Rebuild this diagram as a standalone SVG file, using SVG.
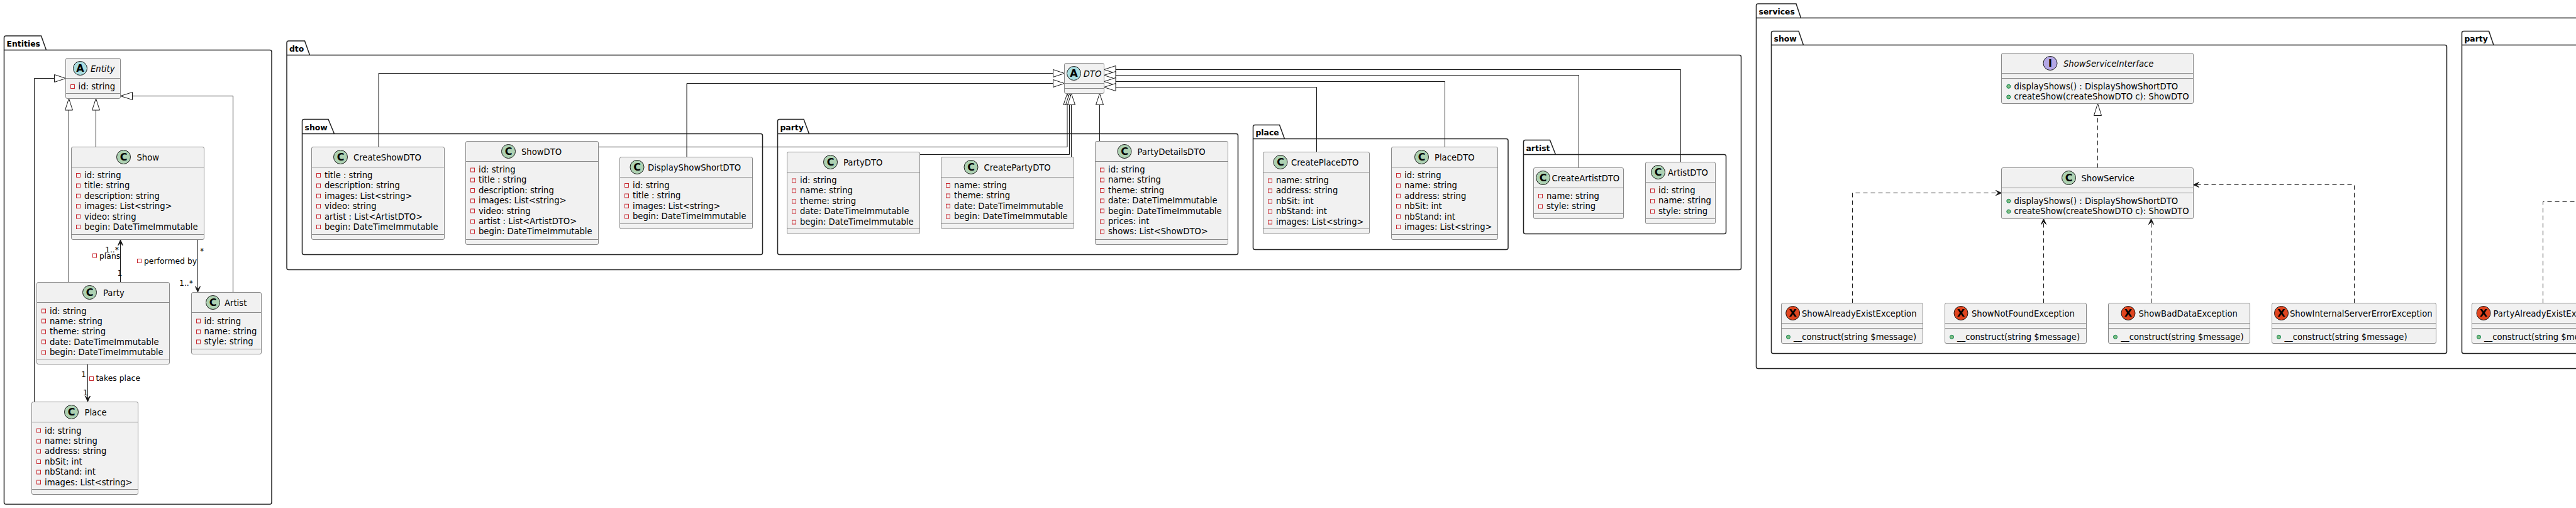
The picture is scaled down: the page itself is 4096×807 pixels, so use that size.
<svg xmlns="http://www.w3.org/2000/svg" width="4096" height="807" viewBox="0 0 4096 807">
<style>
text{font-family:"DejaVu Sans",sans-serif;font-size:13.2px;fill:#000}
.pk{fill:none;stroke:#222;stroke-width:1.5}
.pt{font-weight:bold;font-size:12.4px}
.b{fill:#f1f1f1;stroke:#8a8a8a;stroke-width:1}
.l{stroke:#8a8a8a;stroke-width:1;fill:none}
.c{stroke:#181818;stroke-width:1;fill:none}
.d{stroke:#181818;stroke-width:1;fill:none;stroke-dasharray:7 5}
.tri{stroke:#181818;stroke-width:1;fill:#fff}
.ar{fill:#181818;stroke:#181818;stroke-width:1}
.sc{fill:#add1b2;stroke:#181818}
.sa{fill:#a9dcdf;stroke:#181818}
.si{fill:#b4a7e5;stroke:#181818}
.sx{fill:#e0451f;stroke:#181818}
.g{font-weight:bold;font-size:16px;text-anchor:middle}
.it{font-style:italic}
.pr{fill:none;stroke:#c82930;stroke-width:1}
.pu{fill:#84be84;stroke:#038048;stroke-width:1}
.lb{font-size:12.4px}
</style>
<g id="packages">
<g id="pkg-entities"><path class="pk" d="M6.5 79.5V60Q6.5 57 9.5 57H65.5L73.5 79.5M6.5 79.5H429Q432 79.5 432 82.5V798Q432 801 429 801H9.5Q6.5 801 6.5 798V79.5"/><text class="pt" x="10.5" y="73.5">Entities</text></g>
<g id="pkg-dto"><path class="pk" d="M456 87.5V68Q456 65 459 65H484.5L492.5 87.5M456 87.5H2765.5Q2768.5 87.5 2768.5 90.5V425.5Q2768.5 428.5 2765.5 428.5H459Q456 428.5 456 425.5V87.5"/><text class="pt" x="460" y="81.5">dto</text></g>
<g id="pkg-dto-show"><path class="pk" d="M480.5 212.5V192.5Q480.5 189.5 483.5 189.5H522L531.5 212.5M480.5 212.5H1209.5Q1212.5 212.5 1212.5 215.5V401.5Q1212.5 404.5 1209.5 404.5H483.5Q480.5 404.5 480.5 401.5V212.5"/><text class="pt" x="484.5" y="206.5">show</text></g>
<g id="pkg-dto-party"><path class="pk" d="M1236.5 212.5V192.5Q1236.5 189.5 1239.5 189.5H1278L1286.5 212.5M1236.5 212.5H1965.5Q1968.5 212.5 1968.5 215.5V401.5Q1968.5 404.5 1965.5 404.5H1239.5Q1236.5 404.5 1236.5 401.5V212.5"/><text class="pt" x="1240.5" y="206.5">party</text></g>
<g id="pkg-dto-place"><path class="pk" d="M1992.5 220.5V201.5Q1992.5 198.5 1995.5 198.5H2034.5L2042.5 220.5M1992.5 220.5H2395Q2398 220.5 2398 223.5V393.5Q2398 396.5 2395 396.5H1995.5Q1992.5 396.5 1992.5 393.5V220.5"/><text class="pt" x="1996.5" y="214.5">place</text></g>
<g id="pkg-dto-artist"><path class="pk" d="M2422.5 245.5V225.5Q2422.5 222.5 2425.5 222.5H2464.5L2473.5 245.5M2422.5 245.5H2741.5Q2744.5 245.5 2744.5 248.5V368.5Q2744.5 371.5 2741.5 371.5H2425.5Q2422.5 371.5 2422.5 368.5V245.5"/><text class="pt" x="2426.5" y="239.5">artist</text></g>
<g id="pkg-services"><path class="pk" d="M2792.5 28.5V9Q2792.5 6 2795.5 6H2856L2863.5 28.5M2792.5 28.5H4100M2792.5 28.5V582.5Q2792.5 585.5 2795.5 585.5H4100"/><text class="pt" x="2796.5" y="22.5">services</text></g>
<g id="pkg-services-show"><path class="pk" d="M2816.5 71.5V52.5Q2816.5 49.5 2819.5 49.5H2860L2867.5 71.5M2816.5 71.5H3887.5Q3890.5 71.5 3890.5 74.5V558.5Q3890.5 561.5 3887.5 561.5H2819.5Q2816.5 561.5 2816.5 558.5V71.5"/><text class="pt" x="2820.5" y="65.5">show</text></g>
<g id="pkg-services-party"><path class="pk" d="M3914.5 71.5V52.5Q3914.5 49.5 3917.5 49.5H3957.5L3965 71.5M3914.5 71.5H4100M3914.5 71.5V558.5Q3914.5 561.5 3917.5 561.5H4100"/><text class="pt" x="3918.5" y="65.5">party</text></g>
</g>
<g id="connectors">
<path class="c" d="M54.5 638.5V124.5H86.5"/><path class="tri" d="M104.5 124.5L86.5 118.5V130.5Z"/>
<path class="c" d="M109.5 448.5V175"/><path class="tri" d="M109.5 156.5L103.5 175H115.5Z"/>
<path class="c" d="M152.5 233.5V175"/><path class="tri" d="M152.5 156.5L146.5 175H158.5Z"/>
<path class="c" d="M370.5 464.5V152.5H210.5"/><path class="tri" d="M191.5 152.5L210.5 146.5V158.5Z"/>
<path class="c" d="M191.5 448.5V385"/><path class="ar" d="M191.5 381L187.5 390L191.5 386L195.5 390Z"/>
<path class="c" d="M314.5 380.5V460"/><path class="ar" d="M314.5 464L310.5 455L314.5 459L318.5 455Z"/>
<path class="c" d="M139.5 578.5V634"/><path class="ar" d="M139.5 638L135.5 629L139.5 633L143.5 629Z"/>
<text class="lb" x="167" y="401">1..*</text>
<rect class="pr" x="147.5" y="403" width="6" height="6"/><text class="lb" x="158" y="411">plans</text>
<text class="lb" x="186.5" y="438">1</text>
<text class="lb" x="318" y="403">*</text>
<rect class="pr" x="218.5" y="411.5" width="6" height="6"/><text class="lb" x="229" y="419">performed by</text>
<text class="lb" x="285" y="454">1..*</text>
<text class="lb" x="129" y="599">1</text>
<rect class="pr" x="142.5" y="598.5" width="6" height="6"/><text class="lb" x="152.5" y="605">takes place</text>
<text class="lb" x="132" y="628">1</text>

<path class="c" d="M602 233.5V116.5H1674.5"/><path class="tri" d="M1692.5 116.5L1674.5 110.5V122.5Z"/>
<path class="c" d="M1092 249.5V132.5H1674.5"/><path class="tri" d="M1692.5 132.5L1674.5 126.5V138.5Z"/>
<path class="c" d="M951.5 233.5H1697V166.5"/><path class="tri" d="M1697 148.5L1691 166.5H1703Z"/>
<path class="c" d="M1462.5 245.5H1700.5V166.5"/><path class="tri" d="M1700.5 148.5L1694.5 166.5H1706.5Z"/>
<path class="c" d="M1703.5 249.5V166.5"/><path class="tri" d="M1703.5 148.5L1697.5 166.5H1709.5Z"/>
<path class="c" d="M1748.5 224.5V166.5"/><path class="tri" d="M1748.5 148.5L1742.5 166.5H1754.5Z"/>
<path class="c" d="M2672.5 257.5V110.5H1774"/><path class="tri" d="M1755.5 110.5L1774 104.5V116.5Z"/>
<path class="c" d="M2510.5 267V119.5H1774"/><path class="tri" d="M1755.5 119.5L1774 113.5V125.5Z"/>
<path class="c" d="M2297.5 233.5V129.5H1774"/><path class="tri" d="M1755.5 129.5L1774 123.5V135.5Z"/>
<path class="c" d="M2093.5 241.5V138.5H1774"/><path class="tri" d="M1755.5 138.5L1774 132.5V144.5Z"/>

<path class="d" d="M3335.5 266.5V183.5"/><path class="tri" d="M3335.5 164.5L3329.5 183.5H3341.5Z"/>
<path class="d" d="M2945.5 481.5V306.5H3178"/><path class="ar" d="M3182.5 306.5L3173.5 302.5L3177.5 306.5L3173.5 310.5Z"/>
<path class="d" d="M3249.5 481.5V352"/><path class="ar" d="M3249.5 347.5L3245.5 356.5L3249.5 352.5L3253.5 356.5Z"/>
<path class="d" d="M3420.5 481.5V352"/><path class="ar" d="M3420.5 347.5L3416.5 356.5L3420.5 352.5L3424.5 356.5Z"/>
<path class="d" d="M3743.5 481.5V293.5H3492"/><path class="ar" d="M3487.5 293.5L3496.5 289.5L3492.5 293.5L3496.5 297.5Z"/>
<path class="d" d="M4043.5 481.5V320.5H4100"/>
</g>
<g id="nodes">
<g id="Entity"><rect class="b" x="104.5" y="92.5" width="87" height="64" rx="2.5"/><path class="l" d="M104.5 124.5H191.5M104.5 148.5H191.5"/><circle class="sa" cx="127.5" cy="108.5" r="11"/><text class="g" x="127.5" y="114">A</text><text class="it" x="144" y="114">Entity</text><rect class="pr" x="112.5" y="134.5" width="6" height="6"/><text x="124.5" y="142">id: string</text></g>

<g id="Show"><rect class="b" x="113.5" y="233.5" width="211" height="147" rx="2.5"/><path class="l" d="M113.5 265.5H324.5M113.5 372.5H324.5"/><circle class="sc" cx="196.5" cy="249.5" r="11"/><text class="g" x="196.5" y="255">C</text><text x="217.5" y="255">Show</text>
<rect class="pr" x="121.5" y="275.5" width="6" height="6"/><text x="134" y="283">id: string</text>
<rect class="pr" x="121.5" y="292" width="6" height="6"/><text x="134" y="299.4">title: string</text>
<rect class="pr" x="121.5" y="308.3" width="6" height="6"/><text x="134" y="315.8">description: string</text>
<rect class="pr" x="121.5" y="324.7" width="6" height="6"/><text x="134" y="332.2">images: List&lt;string&gt;</text>
<rect class="pr" x="121.5" y="341" width="6" height="6"/><text x="134" y="348.6">video: string</text>
<rect class="pr" x="121.5" y="357.5" width="6" height="6"/><text x="134" y="365">begin: DateTimeImmutable</text></g>

<g id="Party"><rect class="b" x="58.5" y="448.5" width="211" height="130" rx="2.5"/><path class="l" d="M58.5 480.5H269.5M58.5 570.5H269.5"/><circle class="sc" cx="142.5" cy="464.5" r="11"/><text class="g" x="142.5" y="470">C</text><text x="164" y="470">Party</text>
<rect class="pr" x="66.5" y="491" width="6" height="6"/><text x="79" y="498.5">id: string</text>
<rect class="pr" x="66.5" y="507" width="6" height="6"/><text x="79" y="514.9">name: string</text>
<rect class="pr" x="66.5" y="524" width="6" height="6"/><text x="79" y="531.3">theme: string</text>
<rect class="pr" x="66.5" y="540" width="6" height="6"/><text x="79" y="547.7">date: DateTimeImmutable</text>
<rect class="pr" x="66.5" y="557" width="6" height="6"/><text x="79" y="564.1">begin: DateTimeImmutable</text></g>

<g id="Artist"><rect class="b" x="304.5" y="464.5" width="111" height="98" rx="2.5"/><path class="l" d="M304.5 496.5H415.5M304.5 554.5H415.5"/><circle class="sc" cx="338.5" cy="480.5" r="11"/><text class="g" x="338.5" y="486">C</text><text x="357" y="486">Artist</text>
<rect class="pr" x="312.5" y="507" width="6" height="6"/><text x="324.5" y="514.5">id: string</text>
<rect class="pr" x="312.5" y="524" width="6" height="6"/><text x="324.5" y="530.9">name: string</text>
<rect class="pr" x="312.5" y="540" width="6" height="6"/><text x="324.5" y="547.3">style: string</text></g>

<g id="Place"><rect class="b" x="50.5" y="638.5" width="169" height="147" rx="2.5"/><path class="l" d="M50.5 670.5H219.5M50.5 777.5H219.5"/><circle class="sc" cx="113.5" cy="654.5" r="11"/><text class="g" x="113.5" y="660">C</text><text x="134.5" y="660">Place</text>
<rect class="pr" x="58.5" y="681" width="6" height="6"/><text x="71" y="688.5">id: string</text>
<rect class="pr" x="58.5" y="698" width="6" height="6"/><text x="71" y="704.9">name: string</text>
<rect class="pr" x="58.5" y="714" width="6" height="6"/><text x="71" y="721.3">address: string</text>
<rect class="pr" x="58.5" y="730.5" width="6" height="6"/><text x="71" y="737.7">nbSit: int</text>
<rect class="pr" x="58.5" y="747" width="6" height="6"/><text x="71" y="754.1">nbStand: int</text>
<rect class="pr" x="58.5" y="763" width="6" height="6"/><text x="71" y="770.5">images: List&lt;string&gt;</text></g>

<g id="DTO"><rect class="b" x="1692.5" y="100.5" width="63" height="48" rx="2.5"/><path class="l" d="M1692.5 132.5H1755.5M1692.5 140.5H1755.5"/><circle class="sa" cx="1707.5" cy="116.5" r="11"/><text class="g" x="1707.5" y="122">A</text><text class="it" x="1722.7" y="122">DTO</text></g>

<g id="CreateShowDTO"><rect class="b" x="495.5" y="233.5" width="211" height="147" rx="2.5"/><path class="l" d="M495.5 265.5H706.5M495.5 372.5H706.5"/><circle class="sc" cx="541.5" cy="249.5" r="11"/><text class="g" x="541.5" y="255">C</text><text x="562" y="255">CreateShowDTO</text>
<rect class="pr" x="503.5" y="275.5" width="6" height="6"/><text x="516" y="283">title : string</text>
<rect class="pr" x="503.5" y="292" width="6" height="6"/><text x="516" y="299.4">description: string</text>
<rect class="pr" x="503.5" y="308.3" width="6" height="6"/><text x="516" y="315.8">images: List&lt;string&gt;</text>
<rect class="pr" x="503.5" y="324.7" width="6" height="6"/><text x="516" y="332.2">video: string</text>
<rect class="pr" x="503.5" y="341" width="6" height="6"/><text x="516" y="348.6">artist : List&lt;ArtistDTO&gt;</text>
<rect class="pr" x="503.5" y="357.5" width="6" height="6"/><text x="516" y="365">begin: DateTimeImmutable</text></g>

<g id="ShowDTO"><rect class="b" x="740.5" y="224.5" width="211" height="164" rx="2.5"/><path class="l" d="M740.5 256.5H951.5M740.5 380.5H951.5"/><circle class="sc" cx="808.5" cy="240.5" r="11"/><text class="g" x="808.5" y="246">C</text><text x="829" y="246">ShowDTO</text>
<rect class="pr" x="748.5" y="267" width="6" height="6"/><text x="761" y="274">id: string</text>
<rect class="pr" x="748.5" y="283" width="6" height="6"/><text x="761" y="290.4">title : string</text>
<rect class="pr" x="748.5" y="299.5" width="6" height="6"/><text x="761" y="306.8">description: string</text>
<rect class="pr" x="748.5" y="316" width="6" height="6"/><text x="761" y="323.2">images: List&lt;string&gt;</text>
<rect class="pr" x="748.5" y="332" width="6" height="6"/><text x="761" y="339.6">video: string</text>
<rect class="pr" x="748.5" y="349" width="6" height="6"/><text x="761" y="356">artist : List&lt;ArtistDTO&gt;</text>
<rect class="pr" x="748.5" y="365" width="6" height="6"/><text x="761" y="372.4">begin: DateTimeImmutable</text></g>

<g id="DisplayShowShortDTO"><rect class="b" x="985.5" y="249.5" width="211" height="114" rx="2.5"/><path class="l" d="M985.5 281.5H1196.5M985.5 355.5H1196.5"/><circle class="sc" cx="1013" cy="265.5" r="11"/><text class="g" x="1013" y="271">C</text><text x="1030" y="271">DisplayShowShortDTO</text>
<rect class="pr" x="993.5" y="291.5" width="6" height="6"/><text x="1006" y="299">id: string</text>
<rect class="pr" x="993.5" y="308" width="6" height="6"/><text x="1006" y="315.4">title : string</text>
<rect class="pr" x="993.5" y="324.3" width="6" height="6"/><text x="1006" y="331.8">images: List&lt;string&gt;</text>
<rect class="pr" x="993.5" y="341" width="6" height="6"/><text x="1006" y="348.2">begin: DateTimeImmutable</text></g>

<g id="PartyDTO"><rect class="b" x="1251.5" y="241.5" width="211" height="130" rx="2.5"/><path class="l" d="M1251.5 273.5H1462.5M1251.5 363.5H1462.5"/><circle class="sc" cx="1320.5" cy="257.5" r="11"/><text class="g" x="1320.5" y="263">C</text><text x="1341" y="263">PartyDTO</text>
<rect class="pr" x="1259.5" y="284" width="6" height="6"/><text x="1272" y="291">id: string</text>
<rect class="pr" x="1259.5" y="300" width="6" height="6"/><text x="1272" y="307.4">name: string</text>
<rect class="pr" x="1259.5" y="317" width="6" height="6"/><text x="1272" y="323.8">theme: string</text>
<rect class="pr" x="1259.5" y="333" width="6" height="6"/><text x="1272" y="340.2">date: DateTimeImmutable</text>
<rect class="pr" x="1259.5" y="350" width="6" height="6"/><text x="1272" y="356.6">begin: DateTimeImmutable</text></g>

<g id="CreatePartyDTO"><rect class="b" x="1496.5" y="249.5" width="211" height="114" rx="2.5"/><path class="l" d="M1496.5 281.5H1707.5M1496.5 355.5H1707.5"/><circle class="sc" cx="1544" cy="265.5" r="11"/><text class="g" x="1544" y="271">C</text><text x="1564.5" y="271">CreatePartyDTO</text>
<rect class="pr" x="1504.5" y="291.5" width="6" height="6"/><text x="1517" y="299">name: string</text>
<rect class="pr" x="1504.5" y="308" width="6" height="6"/><text x="1517" y="315.4">theme: string</text>
<rect class="pr" x="1504.5" y="324.3" width="6" height="6"/><text x="1517" y="331.8">date: DateTimeImmutable</text>
<rect class="pr" x="1504.5" y="341" width="6" height="6"/><text x="1517" y="348.2">begin: DateTimeImmutable</text></g>

<g id="PartyDetailsDTO"><rect class="b" x="1741.5" y="224.5" width="211" height="164" rx="2.5"/><path class="l" d="M1741.5 256.5H1952.5M1741.5 380.5H1952.5"/><circle class="sc" cx="1788" cy="240.5" r="11"/><text class="g" x="1788" y="246">C</text><text x="1808.5" y="246">PartyDetailsDTO</text>
<rect class="pr" x="1749.5" y="267" width="6" height="6"/><text x="1762" y="274">id: string</text>
<rect class="pr" x="1749.5" y="283" width="6" height="6"/><text x="1762" y="290.4">name: string</text>
<rect class="pr" x="1749.5" y="299.5" width="6" height="6"/><text x="1762" y="306.8">theme: string</text>
<rect class="pr" x="1749.5" y="316" width="6" height="6"/><text x="1762" y="323.2">date: DateTimeImmutable</text>
<rect class="pr" x="1749.5" y="332" width="6" height="6"/><text x="1762" y="339.6">begin: DateTimeImmutable</text>
<rect class="pr" x="1749.5" y="349" width="6" height="6"/><text x="1762" y="356">prices: int</text>
<rect class="pr" x="1749.5" y="365" width="6" height="6"/><text x="1762" y="372.4">shows: List&lt;ShowDTO&gt;</text></g>

<g id="CreatePlaceDTO"><rect class="b" x="2008.5" y="241.5" width="169" height="130" rx="2.5"/><path class="l" d="M2008.5 273.5H2177.5M2008.5 363.5H2177.5"/><circle class="sc" cx="2036" cy="257.5" r="11"/><text class="g" x="2036" y="263">C</text><text x="2053" y="263">CreatePlaceDTO</text>
<rect class="pr" x="2016.5" y="284" width="6" height="6"/><text x="2029" y="291">name: string</text>
<rect class="pr" x="2016.5" y="300" width="6" height="6"/><text x="2029" y="307.4">address: string</text>
<rect class="pr" x="2016.5" y="317" width="6" height="6"/><text x="2029" y="323.8">nbSit: int</text>
<rect class="pr" x="2016.5" y="333" width="6" height="6"/><text x="2029" y="340.2">nbStand: int</text>
<rect class="pr" x="2016.5" y="350" width="6" height="6"/><text x="2029" y="356.6">images: List&lt;string&gt;</text></g>

<g id="PlaceDTO"><rect class="b" x="2212.5" y="233.5" width="169" height="147" rx="2.5"/><path class="l" d="M2212.5 265.5H2381.5M2212.5 372.5H2381.5"/><circle class="sc" cx="2260.5" cy="249.5" r="11"/><text class="g" x="2260.5" y="255">C</text><text x="2281" y="255">PlaceDTO</text>
<rect class="pr" x="2220.5" y="275.5" width="6" height="6"/><text x="2233" y="283">id: string</text>
<rect class="pr" x="2220.5" y="292" width="6" height="6"/><text x="2233" y="299.4">name: string</text>
<rect class="pr" x="2220.5" y="308.3" width="6" height="6"/><text x="2233" y="315.8">address: string</text>
<rect class="pr" x="2220.5" y="324.7" width="6" height="6"/><text x="2233" y="332.2">nbSit: int</text>
<rect class="pr" x="2220.5" y="341" width="6" height="6"/><text x="2233" y="348.6">nbStand: int</text>
<rect class="pr" x="2220.5" y="357.5" width="6" height="6"/><text x="2233" y="365">images: List&lt;string&gt;</text></g>

<g id="CreateArtistDTO"><rect class="b" x="2438.5" y="266.5" width="143" height="81" rx="2.5"/><path class="l" d="M2438.5 298.5H2581.5M2438.5 339.5H2581.5"/><circle class="sc" cx="2453.5" cy="282.5" r="11"/><text class="g" x="2453.5" y="288">C</text><text x="2467.5" y="288">CreateArtistDTO</text>
<rect class="pr" x="2446.5" y="308.5" width="6" height="6"/><text x="2459" y="316">name: string</text>
<rect class="pr" x="2446.5" y="325" width="6" height="6"/><text x="2459" y="332.4">style: string</text></g>

<g id="ArtistDTO"><rect class="b" x="2616.5" y="257.5" width="111" height="98" rx="2.5"/><path class="l" d="M2616.5 289.5H2727.5M2616.5 347.5H2727.5"/><circle class="sc" cx="2636.5" cy="273.5" r="11"/><text class="g" x="2636.5" y="279">C</text><text x="2652" y="279">ArtistDTO</text>
<rect class="pr" x="2624.5" y="300" width="6" height="6"/><text x="2637" y="307">id: string</text>
<rect class="pr" x="2624.5" y="316.5" width="6" height="6"/><text x="2637" y="323.4">name: string</text>
<rect class="pr" x="2624.5" y="333" width="6" height="6"/><text x="2637" y="339.8">style: string</text></g>

<g id="ShowServiceInterface"><rect class="b" x="3182.5" y="84.5" width="305" height="80" rx="2.5"/><path class="l" d="M3182.5 116.5H3487.5M3182.5 124.5H3487.5"/><circle class="si" cx="3260" cy="100.5" r="11"/><text class="g" x="3260" y="106">I</text><text class="it" x="3281" y="106">ShowServiceInterface</text>
<circle class="pu" cx="3193.8" cy="137.3" r="3"/><text x="3202.5" y="141.5">displayShows() : DisplayShowShortDTO</text>
<circle class="pu" cx="3193.8" cy="154" r="3"/><text x="3202.5" y="158">createShow(createShowDTO c): ShowDTO</text></g>

<g id="ShowService"><rect class="b" x="3182.5" y="266.5" width="305" height="81" rx="2.5"/><path class="l" d="M3182.5 298.5H3487.5M3182.5 306.5H3487.5"/><circle class="sc" cx="3289.5" cy="282.5" r="11"/><text class="g" x="3289.5" y="288">C</text><text x="3309.5" y="288">ShowService</text>
<circle class="pu" cx="3193.8" cy="319.3" r="3"/><text x="3202.5" y="323.5">displayShows() : DisplayShowShortDTO</text>
<circle class="pu" cx="3193.8" cy="336" r="3"/><text x="3202.5" y="340">createShow(createShowDTO c): ShowDTO</text></g>

<g id="ShowAlreadyExistException"><rect class="b" x="2832.5" y="481.5" width="225" height="64" rx="2.5"/><path class="l" d="M2832.5 513.5H3057.5M2832.5 521.5H3057.5"/><circle class="sx" cx="2850.7" cy="497.5" r="11"/><text class="g" x="2850.7" y="503">X</text><text x="2865" y="503">ShowAlreadyExistException</text>
<circle class="pu" cx="2843.5" cy="535.3" r="3"/><text x="2852" y="539.5">__construct(string $message)</text></g>

<g id="ShowNotFoundException"><rect class="b" x="3092.5" y="481.5" width="225" height="64" rx="2.5"/><path class="l" d="M3092.5 513.5H3317.5M3092.5 521.5H3317.5"/><circle class="sx" cx="3118" cy="497.5" r="11"/><text class="g" x="3118" y="503">X</text><text x="3135" y="503">ShowNotFoundException</text>
<circle class="pu" cx="3103.5" cy="535.3" r="3"/><text x="3112" y="539.5">__construct(string $message)</text></g>

<g id="ShowBadDataException"><rect class="b" x="3352.5" y="481.5" width="225" height="64" rx="2.5"/><path class="l" d="M3352.5 513.5H3577.5M3352.5 521.5H3577.5"/><circle class="sx" cx="3384" cy="497.5" r="11"/><text class="g" x="3384" y="503">X</text><text x="3400.5" y="503">ShowBadDataException</text>
<circle class="pu" cx="3363.5" cy="535.3" r="3"/><text x="3372.5" y="539.5">__construct(string $message)</text></g>

<g id="ShowInternalServerErrorException"><rect class="b" x="3612.5" y="481.5" width="261" height="64" rx="2.5"/><path class="l" d="M3612.5 513.5H3873.5M3612.5 521.5H3873.5"/><circle class="sx" cx="3627.5" cy="497.5" r="11"/><text class="g" x="3627.5" y="503">X</text><text x="3641" y="503">ShowInternalServerErrorException</text>
<circle class="pu" cx="3623.5" cy="535.3" r="3"/><text x="3632.5" y="539.5">__construct(string $message)</text></g>

<g id="PartyAlreadyExistException"><rect class="b" x="3930.5" y="481.5" width="225" height="64" rx="2.5"/><path class="l" d="M3930.5 513.5H4156M3930.5 521.5H4156"/><circle class="sx" cx="3949" cy="497.5" r="11"/><text class="g" x="3949" y="503">X</text><text x="3964.5" y="503">PartyAlreadyExistException</text>
<circle class="pu" cx="3941.5" cy="535.3" r="3"/><text x="3950" y="539.5">__construct(string $message)</text></g>
</g>
</svg>
